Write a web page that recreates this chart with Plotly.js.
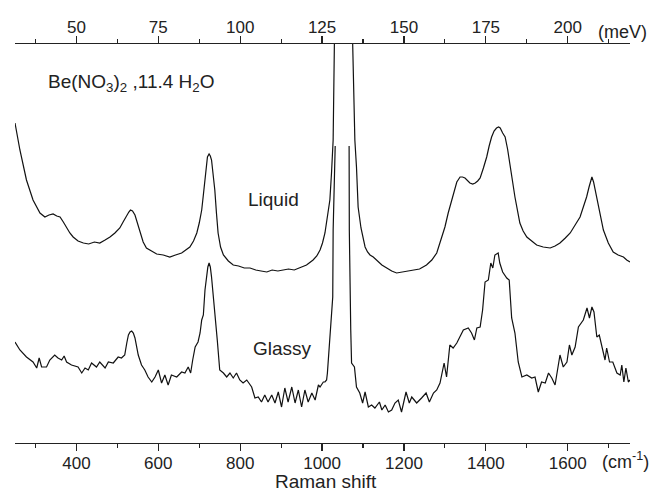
<!DOCTYPE html>
<html>
<head>
<meta charset="utf-8">
<script src="https://cdn.plot.ly/plotly-3.0.1.min.js"></script>
<style>html,body{margin:0;padding:0;background:#fff;}#plot{width:653px;height:493px;}</style>
</head>
<body>
<div id="plot"></div>
<script>
// Raman shift (cm^-1) and intensity (arbitrary units, offset stacked)
const liquidShift = [250,262,278,294,311,323,333,343,352,360,368,376,384,392,404,417,430,444,457,470,482,494,506,514,523,528,532,537,543,549,555,563,571,584,596,612,628,642,657,667,677,686,694,700,706,710,714,717,720,724,727,730,734,738,742,746,752,759,771,783,796,810,824,838,851,865,878,892,905,918,932,946,962,978,987,995,1001,1007,1013,1019,1023,1026,1027,1030,1032,1051,1073,1075,1080,1084,1088,1095,1102,1105,1111,1117,1125,1135,1146,1158,1170,1182,1195,1208,1222,1238,1255,1268,1280,1290,1300,1308,1317,1323,1329,1337,1343,1349,1355,1361,1368,1374,1380,1386,1394,1402,1408,1414,1420,1426,1431,1435,1441,1447,1453,1459,1465,1471,1477,1483,1491,1500,1512,1524,1540,1557,1569,1581,1594,1606,1618,1630,1638,1646,1652,1656,1659,1663,1667,1671,1679,1687,1699,1711,1723,1736,1744,1752];
const liquidValues = [320,293,263,243,230,226,228,229,227,226,221,215,210,206,202,200,199,201,200,203,206,210,215,221,228,231,233,232,228,220,210,201,195,192,189,188,186,188,190,193,196,202,210,220,233,248,266,279,286,289,287,283,270,253,230,210,196,188,182,178,177,175,175,173,172,171,173,172,173,174,173,175,178,183,187,193,200,210,225,243,270,293,303,398,430,900,430,398,303,276,236,215,203,196,191,188,186,182,178,175,172,170,171,172,173,174,178,183,190,203,216,230,243,253,261,266,266,265,262,260,259,260,262,265,275,286,297,306,312,315,316,315,310,306,294,280,262,246,232,220,212,206,202,198,196,195,197,200,205,210,218,226,236,246,256,262,266,261,253,243,226,213,200,191,188,186,183,181];

const glassyShift = [250,254,262,278,294,303,309,315,327,335,347,355,364,370,376,388,404,413,421,429,437,449,457,470,478,490,502,510,518,523,527,531,535,539,543,551,559,567,575,584,592,600,608,616,624,632,645,657,665,673,679,684,690,697,702,706,710,714,718,721,724,727,730,734,738,744,750,759,767,775,783,791,799,807,816,828,836,844,852,860,868,877,885,893,901,909,917,926,934,942,950,958,966,975,983,991,995,1003,1007,1011,1013,1019,1026,1027,1032,null,1066,1066.5,1070,1072,1079,1084,1092,1099,1105,1113,1121,1129,1140,1146,1154,1162,1170,1178,1186,1194,1205,1213,1219,1231,1243,1254,1262,1272,1280,1288,1298,1304,1312,1320,1329,1337,1345,1357,1365,1372,1378,1386,1392,1398,1406,1412,1417,1422,1430,1434,1441,1451,1457,1463,1471,1479,1488,1500,1512,1520,1528,1536,1545,1553,1561,1569,1575,1581,1589,1598,1604,1610,1618,1626,1638,1647,1653,1659,1664,1671,1677,1685,1691,1695,1702,1710,1720,1728,1732,1737,1742,1748,1752];
const glassyValues = [101,98,93,86,81,75,85,76,76,83,88,85,83,87,81,78,76,70,75,73,80,76,81,75,81,80,86,85,88,100,108,111,112,110,105,88,78,73,66,61,66,73,60,68,58,68,66,71,70,76,70,83,96,101,110,123,128,153,170,176,180,176,166,150,133,103,73,70,66,70,65,70,63,60,63,56,45,46,41,48,41,48,40,51,36,55,41,56,40,53,36,53,41,50,43,58,56,61,61,63,70,103,146,213,297,null,297,213,113,80,76,56,50,40,51,36,38,35,41,33,38,31,33,40,43,31,51,40,46,40,45,50,41,50,53,60,80,66,98,95,100,106,113,115,110,103,115,116,133,161,163,180,175,188,190,180,171,165,163,125,110,81,66,68,65,66,51,61,60,70,65,58,73,88,76,81,98,88,96,116,123,135,125,136,131,106,108,93,83,95,81,81,70,68,78,61,75,61,63];

const cmRange = [250, 1752];
const cmPerMeV = 8;

const axisColor = '#222';
const fontFam = '"Liberation Sans", Arial, Helvetica, sans-serif';

const traces = [
  {x: liquidShift, y: liquidValues, type: 'scatter', mode: 'lines', line: {color: '#111', width: 1.2}, hoverinfo: 'skip', showlegend: false},
  {x: glassyShift, y: glassyValues, type: 'scatter', mode: 'lines', line: {color: '#111', width: 1.2}, connectgaps: false, hoverinfo: 'skip', showlegend: false},
  {x: [], y: [], xaxis: 'x2', type: 'scatter', mode: 'lines', hoverinfo: 'skip', showlegend: false}
];

function ann(text, x, y, size, xanchor) {
  return {text: text, x: x, y: y, xref: 'paper', yref: 'paper', xanchor: xanchor || 'center', yanchor: 'middle', showarrow: false, font: {family: fontFam, size: size, color: '#222'}};
}

const layout = {
  width: 653, height: 493,
  margin: {l: 15, r: 23, t: 44, b: 50},
  paper_bgcolor: '#fff', plot_bgcolor: '#fff',
  showlegend: false,
  font: {family: fontFam, color: '#222'},
  xaxis: {
    range: cmRange, showgrid: false, zeroline: false, showline: true, linecolor: axisColor, linewidth: 1.3,
    ticks: 'outside', ticklen: 7, tickwidth: 1.2, tickcolor: axisColor, tick0: 0, dtick: 200,
    minor: {dtick: 100, ticks: 'outside', ticklen: 4, tickwidth: 1.1, tickcolor: axisColor, showgrid: false},
    ticklabelstandoff: -3,
    tickfont: {family: fontFam, size: 17, color: '#222'}, fixedrange: true
  },
  xaxis2: {
    overlaying: 'x', side: 'top', anchor: 'y',
    range: [cmRange[0] / cmPerMeV, cmRange[1] / cmPerMeV], showgrid: false, zeroline: false, showline: true, linecolor: axisColor, linewidth: 1.3,
    ticks: 'outside', ticklen: 7, tickwidth: 1.2, tickcolor: axisColor, tick0: 0, dtick: 25,
    minor: {dtick: 12.5, ticks: 'outside', ticklen: 4, tickwidth: 1.1, tickcolor: axisColor, showgrid: false},
    ticklabelstandoff: -4,
    tickfont: {family: fontFam, size: 17, color: '#222'}, fixedrange: true
  },
  yaxis: {range: [0, 399], visible: false, showgrid: false, zeroline: false, fixedrange: true},
  annotations: [
    ann('Be(NO<sub>3</sub>)<sub>2</sub> ,11.4 H<sub>2</sub>O', 0.05, 0.903, 19, 'left'),
    ann('Liquid', 0.42, 0.6115, 19),
    ann('Glassy', 0.435, 0.2356, 19),
    ann('(cm<sup>-1</sup>)', 0.992, -0.045, 18),
    ann('(meV)', 0.9886, 1.030, 18),
    ann('Raman shift', 0.5057, -0.097, 19)
  ]
};

Plotly.newPlot('plot', traces, layout, {displayModeBar: false, staticPlot: true});
</script>
</body>
</html>
